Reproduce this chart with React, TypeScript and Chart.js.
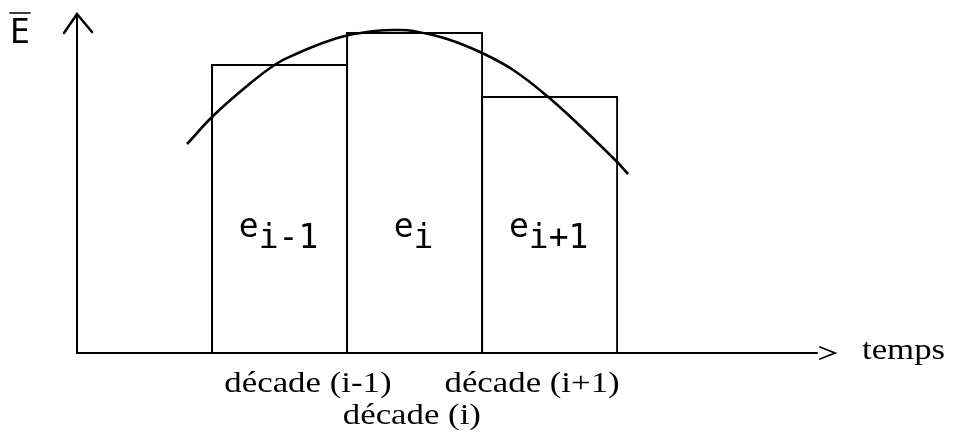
import React, { useEffect, useRef } from "react";
import { Chart, registerables } from "chart.js";

Chart.register(...registerables);

// Decades (bar centres on a linear time axis, one unit = one decade)
const decadeCenters = [1.5, 2.5, 3.5];
const decadeValues = [28.9, 32.1, 25.7];
const barLabelBase = ["e", "e", "e"];
const barLabelSub = ["i-1", "i", "i+1"];

// Smooth curve of E-bar
const curveX = [0.815, 1.007, 1.259, 1.474, 1.63, 1.8, 2.0, 2.244, 2.37, 2.489, 2.741, 3.0, 3.23, 3.481, 3.726, 4.0, 4.081];
const curveY = [20.9, 23.7, 26.7, 28.9, 29.95, 30.9, 31.75, 32.25, 32.3, 32.2, 31.4, 30.0, 28.3, 25.7, 22.7, 19.1, 17.9];

// Axis labels
const xAxisTitle = "temps";
const yAxisTitle = "E";
const xLabelsRow1 = ["décade (i-1)", "décade (i+1)"];
const xLabelsRow1Pos = [1.71, 3.37];
const xLabelsRow2 = ["décade (i)"];
const xLabelsRow2Pos = [2.48];

const X_MAX = 5.48;
const Y_MAX = 33.9;

export default function App() {
  const ref = useRef<HTMLCanvasElement | null>(null);

  useEffect(() => {
    document.body.style.margin = "0";
    const canvas = ref.current;
    if (!canvas) return;

    const decorations = {
      id: "decorations",
      afterDatasetsDraw(chart: any) {
        const ctx = chart.ctx as CanvasRenderingContext2D;
        const xs = chart.scales.x;
        const ys = chart.scales.y;
        const x0 = xs.getPixelForValue(0);
        const xEnd = xs.getPixelForValue(X_MAX);
        const y0 = ys.getPixelForValue(0);
        const yTop = ys.getPixelForValue(Y_MAX);
        ctx.save();
        ctx.strokeStyle = "#000";
        ctx.fillStyle = "#000";
        ctx.lineCap = "round";
        ctx.lineWidth = 2;
        // y axis
        ctx.beginPath();
        ctx.moveTo(x0, y0);
        ctx.lineTo(x0, yTop);
        ctx.stroke();
        ctx.lineWidth = 2.5;
        ctx.beginPath();
        ctx.moveTo(x0 - 13, yTop + 19);
        ctx.lineTo(x0, yTop);
        ctx.lineTo(x0 + 15, yTop + 18);
        ctx.stroke();
        // x axis
        ctx.lineWidth = 2;
        ctx.beginPath();
        ctx.moveTo(x0, y0);
        ctx.lineTo(xEnd, y0);
        ctx.stroke();
        ctx.lineWidth = 1.8;
        ctx.beginPath();
        ctx.moveTo(xEnd + 3, y0 - 6);
        ctx.lineTo(xEnd + 18, y0);
        ctx.lineTo(xEnd + 3, y0 + 6);
        ctx.stroke();

        // Y title with overbar
        ctx.font = "33px 'DejaVu Sans Mono'";
        ctx.textBaseline = "alphabetic";
        ctx.textAlign = "left";
        ctx.fillText(yAxisTitle, 10, 43);
        ctx.lineWidth = 1.6;
        ctx.beginPath();
        ctx.moveTo(10, 13);
        ctx.lineTo(30, 13);
        ctx.stroke();

        // bar labels e_i
        const meta = chart.getDatasetMeta(0);
        meta.data.forEach((bar: any, i: number) => {
          const base = barLabelBase[i];
          const sub = barLabelSub[i];
          const wBase = ctx.measureText(base).width;
          const wSub = ctx.measureText(sub).width;
          const total = wBase + wSub;
          const left = bar.x - total / 2 - 1;
          ctx.fillText(base, left, 237);
          ctx.fillText(sub, left + wBase, 248);
        });

        // serif labels
        const sx = 1.2;
        ctx.font = "29px 'Liberation Serif'";
        const drawScaled = (t: string, cx: number, by: number) => {
          const w = ctx.measureText(t).width * sx;
          ctx.save();
          ctx.translate(cx - w / 2, by);
          ctx.scale(sx, 1);
          ctx.fillText(t, 0, 0);
          ctx.restore();
        };
        xLabelsRow1.forEach((t, i) => drawScaled(t, xs.getPixelForValue(xLabelsRow1Pos[i]), 392));
        xLabelsRow2.forEach((t, i) => drawScaled(t, xs.getPixelForValue(xLabelsRow2Pos[i]), 424));
        const wt = ctx.measureText(xAxisTitle).width * sx;
        drawScaled(xAxisTitle, 862 + wt / 2, 359);
        ctx.restore();
      },
    };

    const chart = new Chart(canvas, {
      type: "bar",
      data: {
        datasets: [
          {
            type: "bar",
            data: decadeCenters.map((x, i) => ({ x, y: decadeValues[i] })),
            backgroundColor: "rgba(0,0,0,0)",
            borderColor: "#000",
            borderWidth: 2,
            barPercentage: 1.015,
            categoryPercentage: 1,
            order: 2,
          } as any,
          {
            type: "line",
            data: curveX.map((x, i) => ({ x, y: curveY[i] })),
            borderColor: "#000",
            borderWidth: 2.6,
            pointRadius: 0,
            fill: false,
            tension: 0.4,
            order: 1,
          } as any,
        ],
      },
      options: {
        responsive: false,
        animation: false,
        events: [],
        layout: { padding: { left: 77, right: 136, top: 14, bottom: 80 } },
        plugins: { legend: { display: false }, tooltip: { enabled: false } },
        scales: {
          x: { type: "linear", min: 0, max: X_MAX, offset: false, display: false, ticks: { stepSize: 100 } },
          y: { type: "linear", min: 0, max: Y_MAX, display: false },
        },
      },
      plugins: [decorations],
    });
    return () => chart.destroy();
  }, []);

  return (
    <div style={{ position: "absolute", left: 0, top: 0, width: 953, height: 433, background: "#fff" }}>
      <canvas ref={ref} width={953} height={433} style={{ width: 953, height: 433 }} />
    </div>
  );
}
